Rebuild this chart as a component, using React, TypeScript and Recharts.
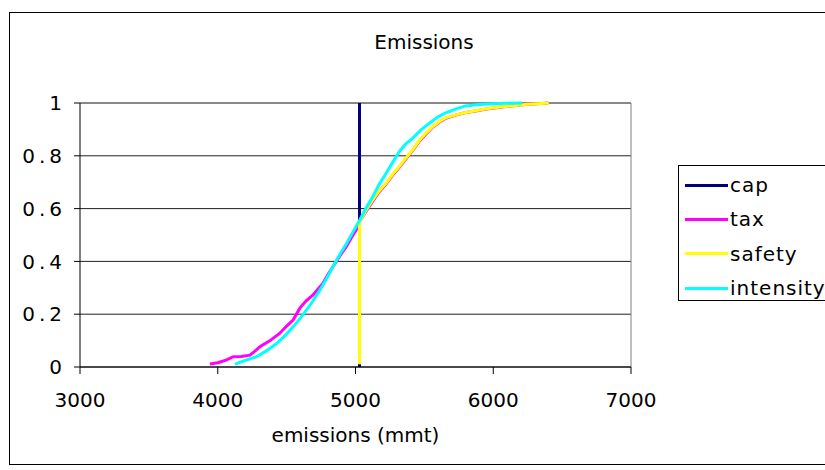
import React from 'react';
import { LineChart, Line, XAxis, YAxis, CartesianGrid, ReferenceLine, Legend, Label } from 'recharts';

// emissions (mmt) on x, cumulative probability on y
const capX = [5029, 5029];
const capY = [0, 1];

const taxX = [3943, 4000, 4060, 4113, 4170, 4234, 4270, 4306, 4380, 4451, 4500, 4547, 4595, 4640, 4692, 4764, 4800, 4836, 4885, 4933, 4970, 5005, 5029, 5075, 5125, 5170, 5221, 5270, 5318, 5365, 5414, 5460, 5510, 5560, 5607, 5660, 5727, 5800, 5872, 5950, 6050, 6150, 6250, 6350, 6400];
const taxY = [0.011, 0.016, 0.026, 0.039, 0.04, 0.045, 0.06, 0.077, 0.1, 0.128, 0.155, 0.178, 0.222, 0.25, 0.273, 0.317, 0.35, 0.38, 0.42, 0.456, 0.49, 0.519, 0.55, 0.588, 0.628, 0.662, 0.693, 0.727, 0.756, 0.788, 0.82, 0.853, 0.882, 0.908, 0.927, 0.943, 0.954, 0.964, 0.97, 0.977, 0.984, 0.99, 0.995, 0.998, 1];

const safetyX = [5029, 5029, 5075, 5125, 5170, 5221, 5270, 5318, 5365, 5414, 5460, 5510, 5560, 5607, 5660, 5727, 5800, 5872, 5950, 6050, 6150, 6250, 6350, 6403];
const safetyY = [0.01, 0.55, 0.592, 0.633, 0.666, 0.696, 0.73, 0.759, 0.791, 0.822, 0.856, 0.885, 0.91, 0.929, 0.945, 0.955, 0.964, 0.971, 0.978, 0.985, 0.99, 0.995, 0.998, 1];

const intensityX = [4125, 4200, 4282, 4350, 4427, 4490, 4547, 4600, 4643, 4690, 4740, 4790, 4836, 4885, 4933, 4980, 5029, 5075, 5125, 5170, 5221, 5270, 5318, 5365, 5414, 5475, 5535, 5600, 5656, 5730, 5800, 5900, 6000, 6100, 6208];
const intensityY = [0.011, 0.025, 0.039, 0.06, 0.089, 0.12, 0.152, 0.185, 0.215, 0.25, 0.29, 0.335, 0.38, 0.425, 0.466, 0.51, 0.555, 0.6, 0.645, 0.69, 0.733, 0.775, 0.816, 0.845, 0.866, 0.898, 0.923, 0.948, 0.963, 0.978, 0.989, 0.994, 0.997, 0.999, 1];

const xTicks = [3000, 4000, 5000, 6000, 7000];
const yTicks = [0, 0.2, 0.4, 0.6, 0.8, 1];

const toPoints = (xs: number[], ys: number[]) => xs.map((x, i) => ({ x, y: ys[i] }));

const series = [
  { name: 'cap', color: '#000080', data: toPoints(capX, capY) },
  { name: 'tax', color: '#FF00FF', data: toPoints(taxX, taxY) },
  { name: 'safety', color: '#FFFF00', data: toPoints(safetyX, safetyY) },
  { name: 'intensity', color: '#00FFFF', data: toPoints(intensityX, intensityY) },
];

const FONT = '"DejaVu Sans", Verdana, sans-serif';

// keep the legend in series order (recharts sorts the payload by name)
const LegendBox = () => (
  <div style={{ border: '1px solid #000', width: 160, height: 136, boxSizing: 'border-box', paddingTop: 2, background: '#fff' }}>
    {series.map(s => (
      <div key={s.name} style={{ display: 'flex', alignItems: 'center', height: 34.3 }}>
        <div style={{ width: 43, height: 3, background: s.color, marginLeft: 6 }} />
        <span style={{ fontFamily: FONT, fontSize: 20, letterSpacing: 1, color: '#000', marginLeft: 2, lineHeight: '22px' }}>{s.name}</span>
      </div>
    ))}
  </div>
);

export default function App() {
  return (
    <div style={{ position: 'absolute', left: 0, top: 0, width: 825, height: 470, background: '#fff', overflow: 'hidden' }}>
      <div style={{ position: 'absolute', left: 9, top: 12, width: 820, height: 453, border: '1px solid #000', boxSizing: 'border-box' }} />
      <div style={{ position: 'absolute', left: 324, width: 200, top: 30, textAlign: 'center', fontFamily: FONT, fontSize: 20, color: '#000' }}>
        Emissions
      </div>
      <LineChart width={825} height={470} margin={{ top: 103, right: 194, bottom: 0, left: 0 }} style={{ position: 'absolute', left: 0, top: 0 }}>
        <CartesianGrid horizontal vertical={false} stroke="#222" />
        <XAxis
          type="number"
          dataKey="x"
          domain={[3000, 7000]}
          ticks={xTicks}
          allowDataOverflow
          height={103}
          tickSize={7}
          tickMargin={19}
          stroke="#000"
          tick={{ fill: '#000', fontSize: 20, fontFamily: FONT }}
        >
          <Label value="emissions (mmt)" position="insideBottom" offset={28} style={{ fill: '#000', fontSize: 20, fontFamily: FONT }} />
        </XAxis>
        <YAxis
          type="number"
          domain={[0, 1]}
          ticks={yTicks}
          width={80}
          tickSize={6}
          tickMargin={8}
          stroke="#000"
          tickFormatter={(v: number) => String(v)}
          tick={{ fill: '#000', fontSize: 20, fontFamily: FONT, letterSpacing: 4 }}
        />
        <ReferenceLine x={7000} stroke="#808080" />
        <ReferenceLine y={1} stroke="#808080" />
        {series.map(s => (
          <Line
            key={s.name}
            data={s.data}
            dataKey="y"
            name={s.name}
            type="linear"
            stroke={s.color}
            strokeWidth={3}
            dot={false}
            isAnimationActive={false}
          />
        ))}
        <Legend
          layout="vertical"
          align="center"
          verticalAlign="middle"
          content={<LegendBox />}
          wrapperStyle={{ left: 678, top: 165, width: 160 }}
        />
      </LineChart>
    </div>
  );
}
